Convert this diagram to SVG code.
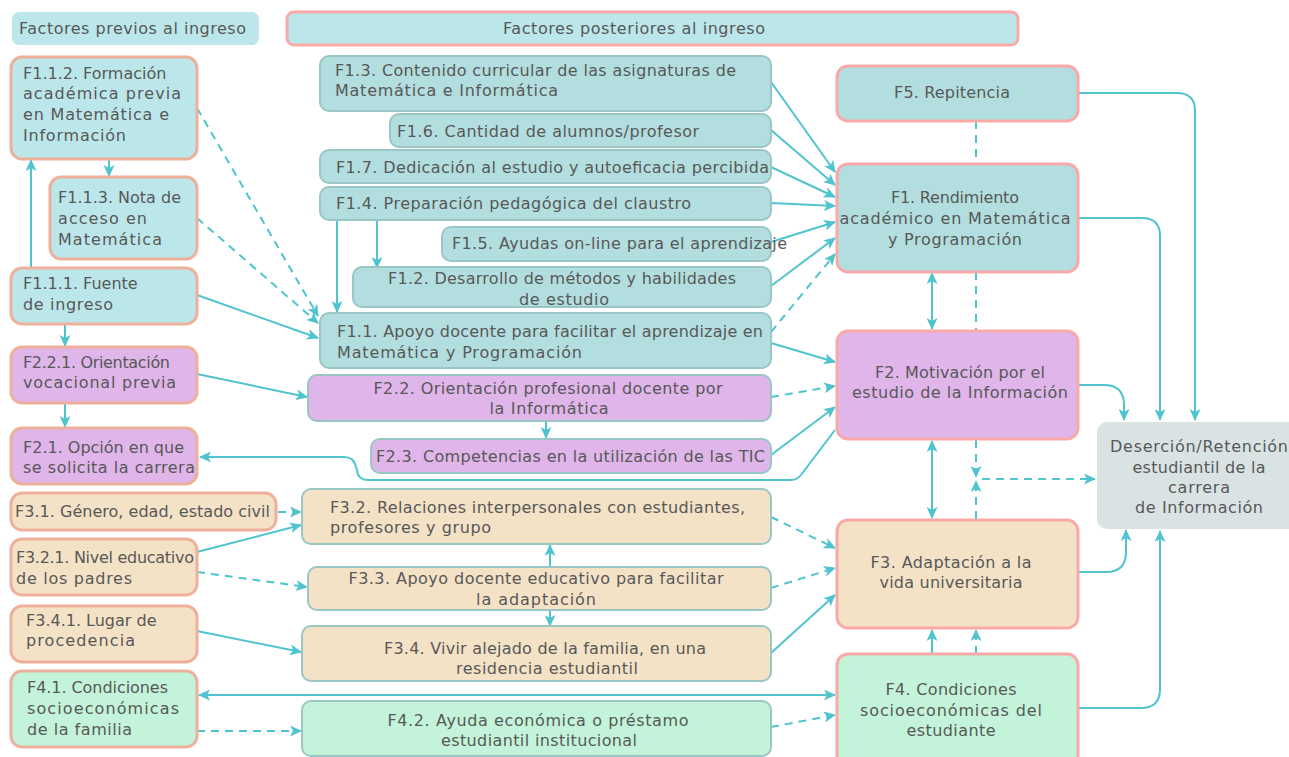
<svg xmlns="http://www.w3.org/2000/svg" width="1289" height="757" viewBox="0 0 1289 757">
  <defs>
    <marker id="arrow" viewBox="0 0 12 11" markerUnits="userSpaceOnUse" markerWidth="12" markerHeight="11" refX="11" refY="5.5" orient="auto-start-reverse">
      <path d="M0,0 L12,5.5 L0,11 L3,5.5 Z" fill="#4fc4cf"/>
    </marker>
    <style>
      text { font-family: "DejaVu Sans", "Open Sans", "Liberation Sans", sans-serif; font-size: 16px; fill: #585858; }
      .c { text-anchor: middle; }
      .pre { stroke: #eeb09b; stroke-width: 3; }
      .mid { stroke: #9ac6c5; stroke-width: 2; }
      .key { stroke: #f8a9a8; stroke-width: 3; }
      .teal { fill: #b2dedf; }
      .tealL { fill: #bce7ea; }
      .purple { fill: #dfb5ea; }
      .beige { fill: #f4e2c6; }
      .green { fill: #c3f4d9; }
      .gray { fill: #d9e3e3; }
      #connectors path { fill: none; stroke: #4fc4cf; stroke-width: 2; }
      #connectors .d { stroke-dasharray: 8 6; }
      #connectors .a { marker-end: url(#arrow); }
      #connectors .b { marker-start: url(#arrow); marker-end: url(#arrow); }
    </style>
  </defs>

  <rect width="1289" height="757" fill="#ffffff"/>

  <!-- section headers -->
  <g id="hdr-previos">
    <rect x="12" y="12" width="247" height="33" rx="7" class="tealL"/>
    <text x="19" y="34" textLength="227">Factores previos al ingreso</text>
  </g>
  <g id="hdr-posteriores">
    <rect x="287" y="12" width="731" height="33" rx="7" class="tealL key"/>
    <text x="634" y="34" class="c" textLength="262">Factores posteriores al ingreso</text>
  </g>

  <!-- connectors -->
  <g id="connectors">
    <!-- left column -->
    <path class="a" d="M31,268 V160"/>
    <path class="a" d="M109,159 V176"/>
    <path class="a" d="M65,324 V346"/>
    <path class="a" d="M65,403 V427"/>
    <path class="a d" d="M197,108 L318,316"/>
    <path class="a d" d="M197,218 L318,323"/>
    <path class="a" d="M197,295 L318,338"/>
    <path class="a" d="M197,374 L307,397"/>
    <path class="a d" d="M278,512 L301,512"/>
    <path class="a" d="M197,552 L301,525"/>
    <path class="a d" d="M197,572 L307,587"/>
    <path class="a" d="M197,631 L301,652"/>
    <path class="b" d="M199,695 H835"/>
    <path class="a d" d="M197,731 L301,731"/>

    <!-- middle column -->
    <path class="a" d="M337,220 V312"/>
    <path class="a" d="M377,220 V268"/>
    <path class="a" d="M546,421 V438"/>
    <path class="a" d="M550,567 V545"/>
    <path class="a" d="M550,611 V626"/>

    <!-- into F1 -->
    <path class="a" d="M771,82 L835,172"/>
    <path class="a" d="M771,130 L835,185"/>
    <path class="a" d="M771,167 L835,197"/>
    <path class="a" d="M771,203 L835,206"/>
    <path class="a" d="M771,242 L835,222"/>
    <path class="a" d="M771,286 L835,238"/>
    <path class="a d" d="M771,332 L835,254"/>

    <!-- into F2 -->
    <path class="a" d="M771,343 L835,362"/>
    <path class="a d" d="M771,397 L835,386"/>
    <path class="a" d="M771,455 L835,407"/>
    <path class="a" d="M835,430 L801,475 Q797,480 791,480 H368 Q358,480 357,470 L356,467 Q354,457 344,457 H200"/>

    <!-- into F3 -->
    <path class="a d" d="M771,517 L835,548"/>
    <path class="a d" d="M771,588 L835,568"/>
    <path class="a" d="M771,653 L835,595"/>

    <!-- into F4 -->
    <path class="a d" d="M771,727 L835,715"/>

    <!-- between key factors -->
    <path class="d" d="M976,121 V164"/>
    <path class="d" d="M976,272 V330"/>
    <path class="b" d="M932,273 V329"/>
    <path class="b" d="M932,441 V518"/>
    <path class="a d" d="M976,440 V477"/>
    <path class="a d" d="M976,519 V481"/>
    <path class="a d" d="M982,479 H1095"/>
    <path class="a" d="M932,654 V630"/>
    <path class="a d" d="M976,654 V630"/>

    <!-- into outcome -->
    <path class="a" d="M1078,93 H1177 Q1195,93 1195,111 V420"/>
    <path class="a" d="M1078,218 H1142 Q1160,218 1160,236 V420"/>
    <path class="a" d="M1078,385 H1104 Q1124,385 1124,405 V420"/>
    <path class="a" d="M1078,572 H1106 Q1126,572 1126,552 V530"/>
    <path class="a" d="M1078,708 H1141 Q1160,708 1160,689 V531"/>
  </g>

  <!-- previous factors -->
  <g id="F1-1-2">
    <rect x="11" y="57" width="186" height="102" rx="11" class="tealL pre"/>
    <text x="23" y="79">F1.1.2. Formación</text>
    <text x="23" y="99" textLength="158">académica previa</text>
    <text x="23" y="120" textLength="146">en Matemática e</text>
    <text x="23" y="141" textLength="103">Información</text>
  </g>
  <g id="F1-1-3">
    <rect x="50" y="177" width="147" height="82" rx="11" class="tealL pre"/>
    <text x="58" y="203">F1.1.3. Nota de</text>
    <text x="58" y="224" textLength="89">acceso en</text>
    <text x="58" y="245" textLength="104">Matemática</text>
  </g>
  <g id="F1-1-1">
    <rect x="11" y="268" width="186" height="56" rx="11" class="tealL pre"/>
    <text x="23" y="289">F1.1.1. Fuente</text>
    <text x="23" y="310" textLength="90">de ingreso</text>
  </g>
  <g id="F2-2-1">
    <rect x="11" y="347" width="186" height="56" rx="11" class="purple pre"/>
    <text x="23" y="368" textLength="147">F2.2.1. Orientación</text>
    <text x="23" y="388" textLength="153">vocacional previa</text>
  </g>
  <g id="F2-1">
    <rect x="11" y="428" width="186" height="56" rx="11" class="purple pre"/>
    <text x="23" y="453" textLength="161">F2.1. Opción en que</text>
    <text x="23" y="473" textLength="172">se solicita la carrera</text>
  </g>
  <g id="F3-1">
    <rect x="11" y="493" width="265" height="37" rx="11" class="beige pre"/>
    <text x="15" y="517" textLength="255">F3.1. Género, edad, estado civil</text>
  </g>
  <g id="F3-2-1">
    <rect x="11" y="539" width="186" height="56" rx="11" class="beige pre"/>
    <text x="16" y="563" textLength="178">F3.2.1. Nivel educativo</text>
    <text x="16" y="584" textLength="116">de los padres</text>
  </g>
  <g id="F3-4-1">
    <rect x="11" y="606" width="186" height="56" rx="11" class="beige pre"/>
    <text x="26" y="626">F3.4.1. Lugar de</text>
    <text x="26" y="646" textLength="109">procedencia</text>
  </g>
  <g id="F4-1">
    <rect x="11" y="671" width="186" height="76" rx="11" class="green pre"/>
    <text x="27" y="693" textLength="141">F4.1. Condiciones</text>
    <text x="27" y="714" textLength="152">socioeconómicas</text>
    <text x="27" y="735" textLength="105">de la familia</text>
  </g>

  <!-- later factors -->
  <g id="F1-3">
    <rect x="320" y="56" width="451" height="55" rx="9" class="teal mid"/>
    <text x="335" y="76" textLength="401">F1.3. Contenido curricular de las asignaturas de</text>
    <text x="335" y="96" textLength="223">Matemática e Informática</text>
  </g>
  <g id="F1-6">
    <rect x="390" y="114" width="381" height="33" rx="9" class="teal mid"/>
    <text x="397" y="137" textLength="302">F1.6. Cantidad de alumnos/profesor</text>
  </g>
  <g id="F1-7">
    <rect x="320" y="150" width="451" height="33" rx="9" class="teal mid"/>
    <text x="336" y="173" textLength="433">F1.7. Dedicación al estudio y autoeficacia percibida</text>
  </g>
  <g id="F1-4">
    <rect x="320" y="187" width="451" height="33" rx="9" class="teal mid"/>
    <text x="336" y="209" textLength="355">F1.4. Preparación pedagógica del claustro</text>
  </g>
  <g id="F1-5">
    <rect x="442" y="227" width="329" height="34" rx="9" class="teal mid"/>
    <text x="452" y="249" textLength="335">F1.5. Ayudas on-line para el aprendizaje</text>
  </g>
  <g id="F1-2">
    <rect x="353" y="267" width="418" height="40" rx="9" class="teal mid"/>
    <text x="562" y="284" class="c" textLength="348">F1.2. Desarrollo de métodos y habilidades</text>
    <text x="564" y="305" class="c" textLength="90">de estudio</text>
  </g>
  <g id="F1-1">
    <rect x="320" y="313" width="451" height="55" rx="9" class="teal mid"/>
    <text x="337" y="337" textLength="426">F1.1. Apoyo docente para facilitar el aprendizaje en</text>
    <text x="337" y="358" textLength="245">Matemática y Programación</text>
  </g>
  <g id="F2-2">
    <rect x="308" y="375" width="463" height="46" rx="9" class="purple mid"/>
    <text x="548" y="394" class="c" textLength="349">F2.2. Orientación profesional docente por</text>
    <text x="549" y="414" class="c" textLength="119">la Informática</text>
  </g>
  <g id="F2-3">
    <rect x="371" y="439" width="400" height="34" rx="9" class="purple mid"/>
    <text x="376" y="462" textLength="389">F2.3. Competencias en la utilización de las TIC</text>
  </g>
  <g id="F3-2">
    <rect x="302" y="489" width="469" height="55" rx="9" class="beige mid"/>
    <text x="330" y="513" textLength="415">F3.2. Relaciones interpersonales con estudiantes,</text>
    <text x="330" y="533" textLength="161">profesores y grupo</text>
  </g>
  <g id="F3-3">
    <rect x="308" y="567" width="463" height="43" rx="9" class="beige mid"/>
    <text x="536" y="584" class="c" textLength="375">F3.3. Apoyo docente educativo para facilitar</text>
    <text x="536" y="605" class="c" textLength="120">la adaptación</text>
  </g>
  <g id="F3-4">
    <rect x="302" y="626" width="469" height="55" rx="9" class="beige mid"/>
    <text x="545" y="654" class="c" textLength="322">F3.4. Vivir alejado de la familia, en una</text>
    <text x="547" y="674" class="c" textLength="182">residencia estudiantil</text>
  </g>
  <g id="F4-2">
    <rect x="302" y="701" width="469" height="55" rx="9" class="green mid"/>
    <text x="538" y="726" class="c" textLength="301">F4.2. Ayuda económica o préstamo</text>
    <text x="539" y="746" class="c" textLength="196">estudiantil institucional</text>
  </g>

  <!-- key factors -->
  <g id="F5">
    <rect x="837" y="66" width="241" height="55" rx="11" class="teal key"/>
    <text x="952" y="98" class="c" textLength="116">F5. Repitencia</text>
  </g>
  <g id="F1">
    <rect x="837" y="164" width="241" height="108" rx="11" class="teal key"/>
    <text x="955" y="203" class="c" textLength="128">F1. Rendimiento</text>
    <text x="955" y="224" class="c" textLength="231">académico en Matemática</text>
    <text x="955" y="245" class="c" textLength="134">y Programación</text>
  </g>
  <g id="F2">
    <rect x="837" y="331" width="241" height="108" rx="11" class="purple key"/>
    <text x="960" y="378" class="c" textLength="170">F2. Motivación por el</text>
    <text x="960" y="398" class="c" textLength="216">estudio de la Información</text>
  </g>
  <g id="F3">
    <rect x="837" y="520" width="241" height="108" rx="11" class="beige key"/>
    <text x="951" y="568" class="c" textLength="161">F3. Adaptación a la</text>
    <text x="951" y="588" class="c" textLength="143">vida universitaria</text>
  </g>
  <g id="F4">
    <rect x="837" y="654" width="241" height="112" rx="11" class="green key"/>
    <text x="951" y="695" class="c" textLength="131">F4. Condiciones</text>
    <text x="951" y="716" class="c" textLength="182">socioeconómicas del</text>
    <text x="951" y="736" class="c" textLength="89">estudiante</text>
  </g>

  <!-- outcome -->
  <g id="outcome">
    <rect x="1097" y="422" width="210" height="107" rx="10" class="gray"/>
    <text x="1199" y="452" class="c" textLength="178">Deserción/Retención</text>
    <text x="1199" y="473" class="c" textLength="133">estudiantil de la</text>
    <text x="1199" y="493" class="c" textLength="62">carrera</text>
    <text x="1199" y="513" class="c" textLength="128">de Información</text>
  </g>
</svg>
